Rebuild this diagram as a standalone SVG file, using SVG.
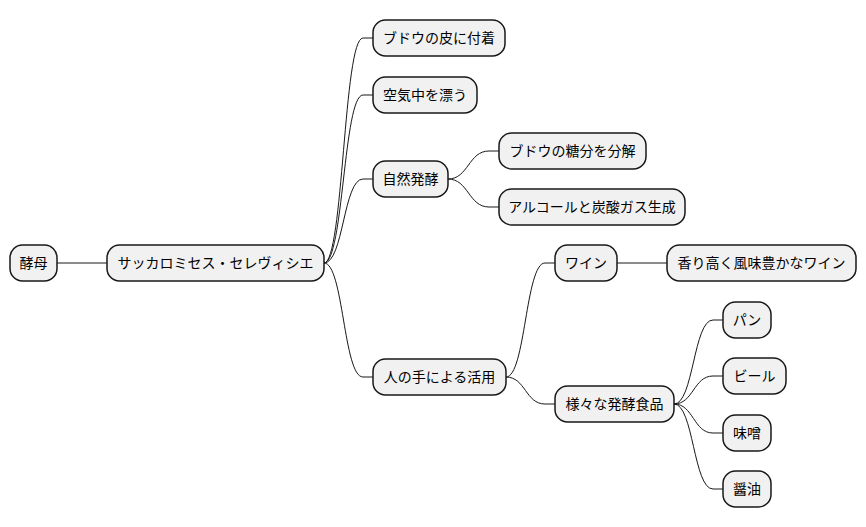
<svg xmlns="http://www.w3.org/2000/svg" width="866" height="527" viewBox="0 0 866 527">
<style>
.n rect{fill:#F1F1F1;stroke:#181818;stroke-width:1.5}
.n text{font-family:"Noto Sans CJK JP","Noto Sans",sans-serif;font-size:14px;fill:#000;text-anchor:middle}
#edges path{fill:none;stroke:#181818;stroke-width:1}
</style>
<rect width="866" height="527" fill="#FFFFFF"/>
<g id="edges">
<path d="M57,263 L107,263"/>
<path d="M324,263 C343.5,263 343.5,38 363,38 L373,38"/>
<path d="M324,263 C343.5,263 343.5,95 363,95 L373,95"/>
<path d="M324,263 C343.5,263 343.5,179 363,179 L373,179"/>
<path d="M324,263 C343.5,263 343.5,377 363,377 L373,377"/>
<path d="M448,179 C468.5,179 468.5,151 489,151 L499,151"/>
<path d="M448,179 C468.5,179 468.5,207 489,207 L499,207"/>
<path d="M506,377 C525.5,377 525.5,263 545,263 L555,263"/>
<path d="M506,377 C525.5,377 525.5,404 545,404 L555,404"/>
<path d="M617,263 L667,263"/>
<path d="M674,404 C693.5,404 693.5,320 713,320 L723,320"/>
<path d="M674,404 C693.5,404 693.5,376 713,376 L723,376"/>
<path d="M674,404 C693.5,404 693.5,433 713,433 L723,433"/>
<path d="M674,404 C693.5,404 693.5,489 713,489 L723,489"/>
</g>
<g id="n0" class="n"><rect x="10" y="245" width="47" height="36" rx="12.5"/><text x="33.5" y="268">酵母</text></g>
<g id="n1" class="n"><rect x="107" y="245" width="217" height="36" rx="12.5"/><text x="215.5" y="268">サッカロミセス・セレヴィシエ</text></g>
<g id="n2" class="n"><rect x="373" y="20" width="132" height="36" rx="12.5"/><text x="439" y="43">ブドウの皮に付着</text></g>
<g id="n3" class="n"><rect x="373" y="77" width="104" height="36" rx="12.5"/><text x="425" y="100">空気中を漂う</text></g>
<g id="n4" class="n"><rect x="373" y="161" width="75" height="36" rx="12.5"/><text x="410.5" y="184">自然発酵</text></g>
<g id="n5" class="n"><rect x="499" y="133" width="147" height="36" rx="12.5"/><text x="572.5" y="156">ブドウの糖分を分解</text></g>
<g id="n6" class="n"><rect x="499" y="189" width="186" height="36" rx="12.5"/><text x="592" y="212">アルコールと炭酸ガス生成</text></g>
<g id="n7" class="n"><rect x="373" y="359" width="133" height="36" rx="12.5"/><text x="439.5" y="382">人の手による活用</text></g>
<g id="n8" class="n"><rect x="555" y="245" width="62" height="36" rx="12.5"/><text x="586" y="268">ワイン</text></g>
<g id="n9" class="n"><rect x="667" y="245" width="189" height="36" rx="12.5"/><text x="761.5" y="268">香り高く風味豊かなワイン</text></g>
<g id="n10" class="n"><rect x="555" y="386" width="119" height="36" rx="12.5"/><text x="614.5" y="409">様々な発酵食品</text></g>
<g id="n11" class="n"><rect x="723" y="302" width="48" height="36" rx="12.5"/><text x="747" y="325">パン</text></g>
<g id="n12" class="n"><rect x="723" y="358" width="63" height="36" rx="12.5"/><text x="754.5" y="381">ビール</text></g>
<g id="n13" class="n"><rect x="723" y="415" width="48" height="36" rx="12.5"/><text x="747" y="438">味噌</text></g>
<g id="n14" class="n"><rect x="723" y="471" width="48" height="36" rx="12.5"/><text x="747" y="494">醤油</text></g>
</svg>
